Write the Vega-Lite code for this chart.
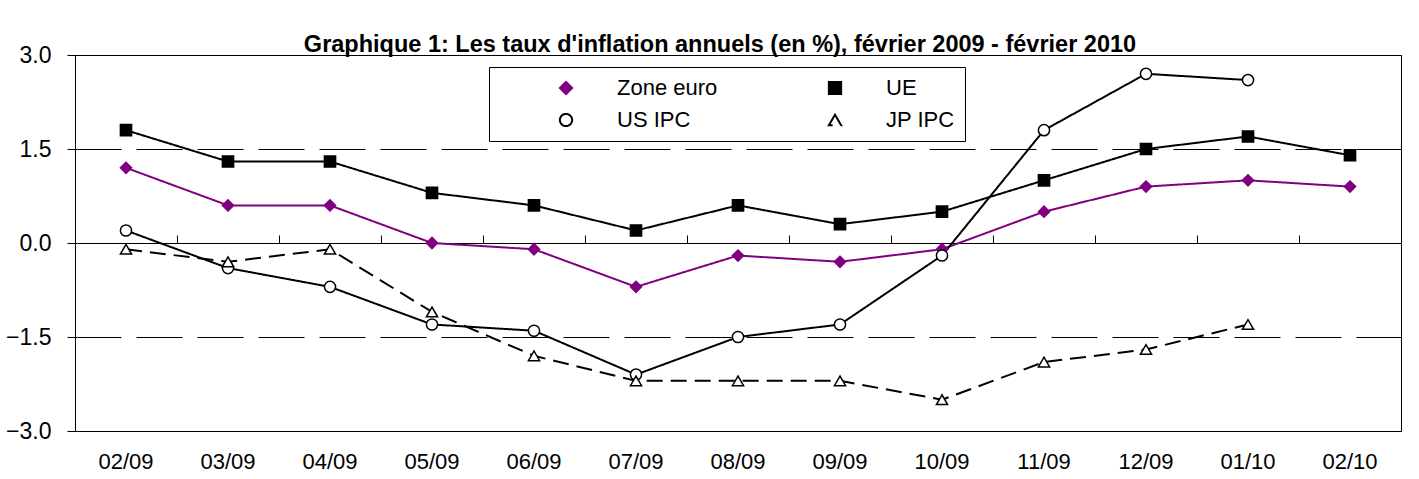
{
  "$schema": "https://vega.github.io/schema/vega-lite/v6.json",
  "width": 1326,
  "height": 376,
  "autosize": {"type": "none"},
  "padding": {"left": 75, "top": 55, "right": 18, "bottom": 48},
  "background": "white",
  "title": {
    "text": "Graphique 1: Les taux d'inflation annuels (en %), février 2009 - février 2010",
    "font": "Liberation Sans",
    "fontSize": 23.5,
    "fontWeight": "bold",
    "color": "black",
    "anchor": "middle",
    "frame": "group",
    "dx": -18,
    "offset": -12
  },
  "config": {
    "font": "Liberation Sans",
    "view": {"stroke": "black", "strokeWidth": 1}
  },
  "data": {
    "values": [
      {"month": "02/09", "series": "Zone euro", "value": 1.2},
      {"month": "03/09", "series": "Zone euro", "value": 0.6},
      {"month": "04/09", "series": "Zone euro", "value": 0.6},
      {"month": "05/09", "series": "Zone euro", "value": 0.0},
      {"month": "06/09", "series": "Zone euro", "value": -0.1},
      {"month": "07/09", "series": "Zone euro", "value": -0.7},
      {"month": "08/09", "series": "Zone euro", "value": -0.2},
      {"month": "09/09", "series": "Zone euro", "value": -0.3},
      {"month": "10/09", "series": "Zone euro", "value": -0.1},
      {"month": "11/09", "series": "Zone euro", "value": 0.5},
      {"month": "12/09", "series": "Zone euro", "value": 0.9},
      {"month": "01/10", "series": "Zone euro", "value": 1.0},
      {"month": "02/10", "series": "Zone euro", "value": 0.9},
      {"month": "02/09", "series": "UE", "value": 1.8},
      {"month": "03/09", "series": "UE", "value": 1.3},
      {"month": "04/09", "series": "UE", "value": 1.3},
      {"month": "05/09", "series": "UE", "value": 0.8},
      {"month": "06/09", "series": "UE", "value": 0.6},
      {"month": "07/09", "series": "UE", "value": 0.2},
      {"month": "08/09", "series": "UE", "value": 0.6},
      {"month": "09/09", "series": "UE", "value": 0.3},
      {"month": "10/09", "series": "UE", "value": 0.5},
      {"month": "11/09", "series": "UE", "value": 1.0},
      {"month": "12/09", "series": "UE", "value": 1.5},
      {"month": "01/10", "series": "UE", "value": 1.7},
      {"month": "02/10", "series": "UE", "value": 1.4},
      {"month": "02/09", "series": "US IPC", "value": 0.2},
      {"month": "03/09", "series": "US IPC", "value": -0.4},
      {"month": "04/09", "series": "US IPC", "value": -0.7},
      {"month": "05/09", "series": "US IPC", "value": -1.3},
      {"month": "06/09", "series": "US IPC", "value": -1.4},
      {"month": "07/09", "series": "US IPC", "value": -2.1},
      {"month": "08/09", "series": "US IPC", "value": -1.5},
      {"month": "09/09", "series": "US IPC", "value": -1.3},
      {"month": "10/09", "series": "US IPC", "value": -0.2},
      {"month": "11/09", "series": "US IPC", "value": 1.8},
      {"month": "12/09", "series": "US IPC", "value": 2.7},
      {"month": "01/10", "series": "US IPC", "value": 2.6},
      {"month": "02/09", "series": "JP IPC", "value": -0.1},
      {"month": "03/09", "series": "JP IPC", "value": -0.3},
      {"month": "04/09", "series": "JP IPC", "value": -0.1},
      {"month": "05/09", "series": "JP IPC", "value": -1.1},
      {"month": "06/09", "series": "JP IPC", "value": -1.8},
      {"month": "07/09", "series": "JP IPC", "value": -2.2},
      {"month": "08/09", "series": "JP IPC", "value": -2.2},
      {"month": "09/09", "series": "JP IPC", "value": -2.2},
      {"month": "10/09", "series": "JP IPC", "value": -2.5},
      {"month": "11/09", "series": "JP IPC", "value": -1.9},
      {"month": "12/09", "series": "JP IPC", "value": -1.7},
      {"month": "01/10", "series": "JP IPC", "value": -1.3}
    ]
  },
  "layer": [
    {
      "mark": {"type": "line", "strokeWidth": 2},
      "encoding": {
        "x": {
          "field": "month",
          "type": "ordinal",
          "bandPosition": 0.5,
          "scale": {"type": "band", "paddingInner": 0, "paddingOuter": 0,
            "domain": ["02/09","03/09","04/09","05/09","06/09","07/09","08/09","09/09","10/09","11/09","12/09","01/10","02/10"]},
          "axis": {
            "orient": "bottom", "title": null, "domain": false, "ticks": false, "tickSize": 0,
            "labelAngle": 0, "labelFontSize": 22, "labelColor": "black", "labelFont": "Liberation Sans",
            "labelPadding": 20, "grid": false
          }
        },
        "y": {
          "field": "value",
          "type": "quantitative",
          "scale": {"domain": [-3, 3], "nice": false, "zero": false},
          "axis": {
            "title": null, "values": [-3, -1.5, 0, 1.5, 3], "format": ".1f",
            "labelFontSize": 23, "labelColor": "black", "labelFont": "Liberation Sans", "labelPadding": 16,
            "tickSize": 8, "tickColor": "black", "domainColor": "black",
            "grid": true, "gridColor": "black", "gridDash": [46, 15], "gridWidth": 1
          }
        },
        "detail": {"field": "series"},
        "stroke": {
          "field": "series", "type": "nominal",
          "scale": {"domain": ["Zone euro", "UE", "US IPC", "JP IPC"], "range": ["#800080", "black", "black", "black"]}
        },
        "strokeDash": {
          "field": "series", "type": "nominal",
          "scale": {"domain": ["Zone euro", "UE", "US IPC", "JP IPC"], "range": [[1, 0], [1, 0], [1, 0], [16, 8]]}
        }
      }
    },
    {
      "mark": {"type": "point", "strokeWidth": 1.5, "opacity": 1, "fillOpacity": 1, "size": 125},
      "encoding": {
        "x": {
          "field": "month",
          "type": "ordinal",
          "bandPosition": 0.5,
          "scale": {"type": "band", "paddingInner": 0, "paddingOuter": 0,
            "domain": ["02/09","03/09","04/09","05/09","06/09","07/09","08/09","09/09","10/09","11/09","12/09","01/10","02/10"]},
          "axis": {
            "orient": "top", "offset": -188, "title": null, "labels": false, "ticks": true,
            "tickBand": "extent", "tickSize": 8, "tickColor": "black", "domain": true, "domainColor": "black",
            "grid": false
          }
        },
        "y": {"field": "value", "type": "quantitative"},
        "shape": {
          "field": "series", "type": "nominal",
          "scale": {"domain": ["Zone euro", "UE", "US IPC", "JP IPC"], "range": ["diamond", "square", "circle", "triangle-up"]},
          "legend": {
            "orient": "none", "legendX": 414, "legendY": 12, "columns": 2, "direction": "horizontal", "title": null,
            "strokeColor": "black", "fillColor": "white", "padding": 10,
            "labelFontSize": 22, "labelColor": "black", "labelFont": "Liberation Sans",
            "symbolSize": 150, "symbolStrokeWidth": 2, "symbolOffset": 56, "labelOffset": 40,
            "columnPadding": 50, "rowPadding": 10
          }
        },
        "fill": {
          "field": "series", "type": "nominal",
          "scale": {"domain": ["Zone euro", "UE", "US IPC", "JP IPC"], "range": ["#800080", "black", "white", "white"]}
        },
        "stroke": {
          "field": "series", "type": "nominal",
          "scale": {"domain": ["Zone euro", "UE", "US IPC", "JP IPC"], "range": ["#800080", "black", "black", "black"]}
        }
      }
    }
  ],
  "resolve": {"axis": {"x": "independent"}}
}
